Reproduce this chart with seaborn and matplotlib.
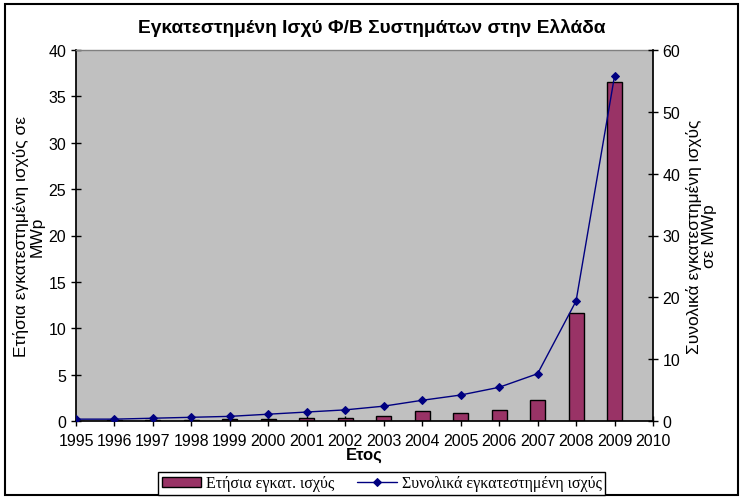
import matplotlib
matplotlib.use("Agg")
import matplotlib.pyplot as plt
import seaborn as sns
import pandas as pd
from matplotlib.patches import Rectangle

years = [1995, 1996, 1997, 1998, 1999, 2000, 2001, 2002, 2003, 2004, 2005, 2006, 2007, 2008, 2009]
annual = [0.0, 0.1, 0.1, 0.1, 0.2, 0.2, 0.3, 0.3, 0.5, 1.05, 0.85, 1.15, 2.25, 11.6, 36.6]
cumulative = [0.3, 0.3, 0.45, 0.6, 0.75, 1.1, 1.45, 1.8, 2.4, 3.35, 4.2, 5.45, 7.65, 19.4, 55.8]
x_ticks = list(range(1995, 2011))

title = "Εγκατεστημένη Ισχύ Φ/Β Συστημάτων στην Ελλάδα"
ylabel_left = "Ετήσια εγκατεστημένη ισχύς σε\nMWp"
ylabel_right = "Συνολικά εγκατεστημένη ισχύς\nσε MWp"
xlabel = "Ετος"
legend_bar = "Ετήσια εγκατ. ισχύς"
legend_line = "Συνολικά εγκατεστημένη ισχύς"

sns.set_theme(style="white")
plt.rcParams['font.family'] = ['Liberation Sans', 'DejaVu Sans']
plt.rcParams['text.color'] = 'black'
plt.rcParams['axes.labelcolor'] = 'black'
plt.rcParams['xtick.color'] = 'black'
plt.rcParams['ytick.color'] = 'black'

df = pd.DataFrame({"year": years, "annual": annual, "cumulative": cumulative})

fig = plt.figure(figsize=(7.45, 5.02), dpi=100)
ax = fig.add_axes([76/745, 1-422/502, (653-76)/745, (422-51)/502])
ax.set_facecolor("#C0C0C0")

sns.barplot(data=df, x="year", y="annual", native_scale=True, width=0.39,
            color="#993366", edgecolor="black", linewidth=1.0, saturation=1,
            ax=ax, label=legend_bar)
ax.set_xlim(1995, 2010)
ax.set_ylim(0, 40)
ax.set_xticks(x_ticks)
ax.set_xticklabels([str(t) for t in x_ticks])
ax.set_yticks(range(0, 41, 5))

ax2 = ax.twinx()
sns.lineplot(data=df, x="year", y="cumulative", color="#000080", marker="D",
             markersize=4.5, markeredgecolor="#000080", linewidth=1.0, ax=ax2,
             label=legend_line, legend=False)
ax2.set_ylim(0, 60)
ax2.set_yticks(range(0, 61, 10))
ax2.set_xlim(1995, 2010)

for a in (ax, ax2):
    for s in a.spines.values():
        s.set_visible(False)
ax.spines['left'].set_visible(True)
ax.spines['bottom'].set_visible(True)
ax2.spines['right'].set_visible(True)
ax.spines['left'].set_color('black')
ax.spines['bottom'].set_color('black')
ax2.spines['right'].set_color('black')
ax.spines['top'].set_visible(True)
ax.spines['top'].set_color('#808080')
ax.spines['top'].set_linewidth(1.0)

ax.tick_params(axis='both', direction='inout', length=7, width=1, color='black',
               labelsize=11.5, labelcolor='black', bottom=True, left=True)
ax2.tick_params(axis='y', direction='inout', length=7, width=1, color='black',
                labelsize=11.5, labelcolor='black', right=True)
ax.tick_params(axis='x', pad=5)

ax.set_xlabel(xlabel, fontsize=12, fontweight='bold', labelpad=-1, color='black')
ax.set_ylabel(ylabel_left, fontsize=12.5, labelpad=3, linespacing=1.0, color='black')
ax2.set_ylabel(ylabel_right, fontsize=12.5, labelpad=4, linespacing=1.0, color='black')
fig.text(372/745, 1-28/502, title, fontsize=13.8, fontweight='bold', color='black',
         ha='center', va='center')

if ax.get_legend() is not None:
    ax.get_legend().remove()
h1, l1 = ax.get_legend_handles_labels()
h2, l2 = ax2.get_legend_handles_labels()
leg = fig.legend(h1 + h2, l1 + l2, loc='center', bbox_to_anchor=(381.5/745, 1-484.5/502),
                 ncol=2, frameon=True, fancybox=False, edgecolor='black', framealpha=1,
                 prop={'family': 'Liberation Serif', 'size': 11.5},
                 handlelength=2.5, handleheight=0.6, columnspacing=1.4,
                 borderpad=0.2, handletextpad=0.3)
leg.get_frame().set_linewidth(1.0)

fig.patches.append(Rectangle((5/745, 1-496/502), (738-5)/745, (496-5)/502,
                             transform=fig.transFigure, fill=False,
                             edgecolor='black', linewidth=1.5))

fig.savefig("out.png", dpi=100, facecolor='white')
